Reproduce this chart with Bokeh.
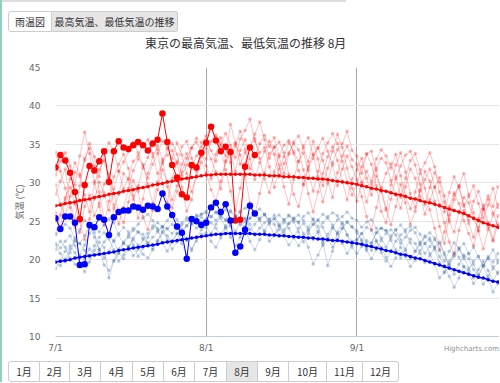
from bokeh.plotting import figure
from bokeh.models import Range1d, FixedTicker, Div
from bokeh.layouts import column, row
from bokeh.embed import file_html
from bokeh.resources import INLINE

# ---------------- data ----------------
tick_days = [0, 31, 62]
tick_labels = ["7/1", "8/1", "9/1"]
y_ticks = [10, 15, 20, 25, 30, 35, 40, 45]

# past years, daily max (7/1 - 9/30)
max_y1 = [28.5, 30.2, 31.8, 27.4, 25.1, 29.6, 33.2, 34.5, 32.1, 30.8, 33.9, 35.2, 34.1, 31.5, 29.2, 30.6, 32.8, 33.5, 34.9, 35.6, 33.8, 31.2, 32.5, 34.4, 35.1, 33.7, 30.9, 32.3, 34.6, 35.3, 34.0,
          33.1, 35.4, 36.2, 34.8, 33.5, 37.6, 35.2, 32.4, 33.9, 34.7, 35.8, 33.2, 30.5, 28.7, 31.4, 33.6, 34.9, 35.5, 33.8, 31.6, 29.8, 32.2, 33.7, 34.5, 32.9, 30.4, 28.1, 31.3, 33.5, 34.8, 33.0,
          32.4, 30.1, 27.5, 29.8, 31.9, 33.2, 32.6, 30.3, 28.4, 26.7, 29.5, 31.8, 30.6, 28.2, 25.9, 27.8, 29.4, 30.7, 28.3, 24.9, 23.6, 26.2, 28.1, 27.4, 25.3, 23.8, 26.5, 27.9, 26.1, 24.4]
max_y2 = [34.0, 31.5, 29.3, 26.8, 24.2, 23.5, 26.9, 28.4, 25.7, 27.3, 29.8, 31.2, 28.6, 26.1, 24.8, 27.5, 30.3, 28.9, 25.6, 23.9, 26.4, 29.1, 31.7, 30.2, 27.8, 29.6, 32.4, 33.8, 31.9, 33.5, 34.7,
          35.6, 34.2, 32.8, 35.1, 36.4, 34.9, 33.3, 35.7, 36.8, 38.3, 35.4, 33.9, 34.6, 32.1, 29.4, 31.8, 33.4, 35.2, 34.1, 32.7, 34.8, 35.9, 33.6, 30.8, 27.5, 29.9, 32.6, 34.3, 35.1, 36.7, 34.2,
          33.5, 31.2, 33.8, 34.1, 31.6, 28.9, 26.4, 29.7, 32.3, 33.9, 31.4, 28.6, 26.8, 29.1, 31.5, 30.2, 27.6, 24.3, 22.1, 25.8, 28.4, 29.6, 27.2, 24.7, 22.9, 25.4, 27.1, 24.8, 22.6, 25.7]
max_y3 = [26.1, 24.3, 27.8, 30.5, 32.6, 31.1, 28.4, 26.2, 29.9, 31.7, 32.9, 30.4, 27.1, 24.6, 26.8, 29.3, 31.6, 33.1, 32.4, 29.8, 27.3, 30.1, 32.8, 33.6, 34.2, 32.5, 34.7, 35.4, 33.2, 31.8, 33.4,
          34.5, 33.1, 31.4, 29.2, 32.7, 34.3, 35.1, 33.6, 30.9, 27.4, 25.8, 28.6, 31.3, 33.8, 34.6, 35.3, 33.9, 31.1, 28.5, 26.9, 29.7, 31.9, 33.2, 34.6, 35.8, 34.1, 32.3, 29.6, 31.8, 33.5, 32.1,
          30.4, 28.2, 25.6, 23.9, 26.8, 29.4, 31.2, 32.5, 30.8, 28.1, 30.6, 32.9, 33.8, 31.7, 29.3, 26.5, 24.1, 21.3, 23.6, 26.9, 28.7, 27.3, 25.1, 23.4, 21.8, 24.2, 26.6, 28.3, 26.9, 29.5]
max_y4 = [31.0, 32.8, 33.9, 32.2, 29.7, 33.5, 36.6, 33.8, 30.2, 26.9, 24.5, 27.6, 30.8, 32.4, 33.7, 31.9, 28.3, 25.4, 27.9, 31.2, 33.4, 34.8, 33.1, 29.5, 26.7, 28.9, 31.4, 33.2, 34.5, 35.8, 35.2,
          36.1, 37.4, 35.8, 34.2, 31.7, 28.9, 26.4, 29.3, 32.5, 34.8, 36.3, 37.9, 35.6, 33.2, 34.7, 32.3, 29.5, 27.2, 30.4, 32.8, 33.9, 31.6, 28.9, 31.5, 33.8, 35.2, 36.4, 35.1, 32.8, 30.1, 28.4,
          29.8, 32.1, 33.7, 32.4, 29.6, 26.3, 24.8, 27.9, 30.5, 32.2, 33.6, 34.1, 32.3, 29.8, 27.1, 29.4, 31.3, 30.1, 27.5, 25.2, 27.8, 29.6, 31.2, 28.5, 26.1, 23.7, 21.4, 23.9, 25.8, 27.2]
max_y5 = [23.4, 25.8, 28.1, 29.4, 27.2, 24.9, 22.6, 25.3, 27.9, 30.1, 28.7, 26.4, 29.2, 31.5, 32.7, 34.1, 35.3, 33.9, 32.2, 30.6, 32.4, 33.8, 35.4, 34.6, 33.1, 35.2, 33.6, 31.2, 28.8, 30.9, 32.7,
          31.3, 29.1, 27.6, 30.2, 32.9, 33.8, 31.5, 34.2, 35.6, 33.1, 30.4, 32.6, 34.1, 35.4, 33.7, 30.8, 32.5, 33.9, 35.1, 34.3, 31.7, 28.6, 26.2, 28.8, 31.2, 33.4, 34.7, 32.9, 30.2, 27.8, 30.5,
          31.7, 33.2, 30.6, 28.4, 30.9, 29.2, 26.7, 24.5, 26.9, 29.8, 27.4, 24.6, 26.3, 28.9, 30.4, 31.8, 29.5, 27.2, 24.8, 22.3, 20.6, 23.8, 26.4, 25.1, 27.6, 28.9, 26.7, 24.2, 22.4, 24.6]
max_y6 = [29.7, 27.3, 25.6, 28.2, 31.4, 30.8, 32.9, 35.1, 33.4, 28.8, 25.2, 23.1, 26.7, 28.5, 31.2, 30.4, 27.8, 29.6, 31.9, 33.3, 35.2, 34.3, 29.9, 27.4, 30.6, 32.8, 29.4, 26.3, 27.8, 31.5, 33.8,
          32.2, 30.5, 33.7, 35.9, 34.4, 32.6, 34.8, 36.7, 34.3, 31.8, 33.4, 35.1, 36.2, 34.7, 35.9, 33.4, 31.2, 33.7, 35.3, 36.1, 34.5, 32.7, 35.4, 33.1, 29.6, 31.9, 34.1, 36.3, 34.6, 31.9, 29.3,
          27.6, 29.9, 31.5, 30.2, 33.1, 34.3, 33.5, 31.9, 33.7, 30.9, 28.3, 26.6, 28.8, 31.2, 32.6, 33.9, 32.1, 28.8, 26.2, 28.7, 30.8, 29.4, 26.9, 28.2, 29.6, 27.3, 25.4, 27.1, 29.3, 26.8]

# past years, daily min (7/1 - 9/30)
min_y1 = [22.1, 21.5, 22.4, 23.1, 21.8, 20.6, 21.9, 23.4, 24.2, 23.6, 24.5, 25.3, 24.8, 23.2, 22.1, 22.9, 23.8, 24.6, 25.4, 25.9, 25.1, 23.8, 24.2, 25.1, 25.8, 25.2, 23.9, 24.4, 25.3, 25.8, 25.5,
          24.9, 25.6, 26.2, 25.8, 25.1, 26.4, 25.7, 24.5, 24.9, 25.4, 25.9, 25.1, 23.6, 22.4, 23.1, 24.3, 25.2, 25.8, 24.9, 23.6, 22.3, 23.4, 24.6, 25.1, 24.2, 22.8, 21.6, 22.7, 24.1, 24.9, 24.3,
          23.8, 22.6, 21.4, 22.2, 23.5, 24.1, 23.8, 22.5, 21.3, 20.2, 21.4, 22.7, 22.1, 20.8, 19.6, 20.5, 21.6, 22.3, 20.9, 18.8, 18.1, 19.4, 20.6, 20.1, 18.7, 17.9, 19.2, 20.1, 19.1, 18.2]
min_y2 = [21.3, 22.4, 21.6, 20.2, 19.4, 19.1, 20.3, 21.4, 20.6, 21.2, 22.3, 23.1, 22.4, 20.9, 20.1, 21.5, 22.6, 21.9, 20.7, 20.2, 21.3, 22.4, 23.5, 23.1, 22.2, 23.4, 24.5, 25.2, 24.6, 25.4, 25.9,
          26.1, 25.6, 25.1, 25.9, 26.5, 26.2, 25.6, 26.3, 26.7, 26.9, 26.1, 25.3, 25.8, 24.6, 23.2, 23.9, 24.8, 25.7, 25.4, 24.9, 25.6, 26.1, 25.2, 23.5, 21.8, 22.6, 24.1, 25.2, 25.6, 26.2, 25.4,
          25.1, 24.2, 24.9, 25.2, 24.1, 22.8, 21.6, 22.8, 23.9, 24.5, 23.6, 22.2, 21.1, 21.9, 23.1, 22.5, 21.3, 19.6, 18.3, 19.4, 20.8, 21.5, 20.4, 18.9, 17.6, 18.7, 19.8, 18.6, 17.2, 18.4]
min_y3 = [19.6, 19.2, 20.1, 21.4, 22.6, 22.1, 21.2, 20.3, 21.8, 22.9, 23.5, 22.7, 21.3, 19.8, 20.6, 21.7, 22.8, 23.6, 23.3, 22.2, 21.4, 22.5, 23.7, 24.1, 24.6, 24.0, 24.8, 25.5, 24.7, 24.1, 24.9,
          25.3, 24.8, 24.1, 23.2, 24.4, 25.1, 25.6, 25.0, 23.9, 22.4, 21.3, 22.6, 23.8, 24.9, 25.4, 25.8, 25.2, 24.1, 22.9, 21.8, 22.9, 23.9, 24.6, 25.2, 25.9, 25.4, 24.5, 23.3, 24.1, 24.9, 24.2,
          23.5, 22.4, 21.2, 20.1, 21.3, 22.5, 23.4, 23.9, 23.2, 22.1, 22.9, 23.8, 24.2, 23.3, 22.1, 20.8, 19.4, 17.6, 18.4, 19.8, 20.9, 20.3, 19.1, 18.2, 16.9, 17.8, 19.2, 20.4, 19.7, 20.8]
min_y4 = [23.2, 23.8, 24.6, 24.1, 22.8, 23.9, 25.1, 24.6, 22.9, 21.3, 20.2, 21.1, 22.5, 23.4, 24.2, 23.6, 21.9, 20.4, 21.5, 22.9, 24.1, 24.8, 24.3, 22.6, 21.4, 22.3, 23.5, 24.4, 25.1, 25.6, 25.9,
          26.3, 26.8, 26.1, 25.4, 24.2, 22.9, 21.8, 22.9, 24.3, 25.4, 26.2, 26.6, 25.9, 24.8, 25.3, 24.4, 23.1, 21.9, 22.8, 24.1, 24.7, 23.8, 22.6, 23.7, 24.8, 25.6, 26.1, 25.7, 24.6, 23.2, 22.4,
          22.6, 23.4, 24.2, 23.8, 22.5, 20.9, 19.8, 21.1, 22.4, 23.2, 23.9, 24.3, 23.5, 22.1, 20.8, 21.7, 22.6, 22.1, 20.6, 19.3, 20.4, 21.3, 22.1, 20.8, 19.4, 18.1, 16.8, 17.9, 18.8, 19.6]
min_y5 = [18.8, 19.9, 21.1, 21.8, 20.9, 19.6, 18.4, 19.7, 21.2, 22.3, 21.6, 17.6, 19.9, 21.4, 22.3, 23.2, 24.1, 23.6, 22.8, 22.1, 22.9, 23.6, 24.3, 24.0, 23.4, 24.2, 23.6, 22.5, 21.4, 22.4, 23.3,
          23.5, 22.4, 21.6, 22.8, 24.1, 24.6, 23.7, 24.8, 25.4, 24.6, 23.2, 24.1, 24.8, 25.3, 24.6, 23.1, 23.9, 24.7, 25.2, 24.8, 23.4, 21.6, 19.4, 20.6, 22.1, 23.3, 24.2, 23.4, 22.1, 20.8, 21.9,
          22.6, 23.4, 22.1, 21.2, 22.4, 21.6, 20.3, 19.1, 20.2, 21.6, 20.4, 19.1, 19.9, 21.2, 22.1, 22.8, 21.6, 20.4, 19.2, 17.8, 16.4, 17.6, 19.1, 18.6, 19.8, 20.4, 19.1, 17.6, 15.8, 16.9]
min_y6 = [21.9, 20.8, 19.7, 20.9, 22.4, 22.1, 23.1, 24.2, 23.5, 21.4, 19.3, 18.6, 19.8, 20.8, 22.1, 21.7, 20.5, 21.3, 22.6, 23.4, 24.4, 24.1, 22.2, 21.1, 22.4, 23.4, 22.1, 20.6, 21.2, 22.8, 23.9,
          24.2, 23.4, 24.6, 25.7, 25.2, 24.3, 25.4, 26.2, 25.3, 23.9, 24.6, 25.4, 25.9, 25.2, 25.8, 24.6, 23.5, 24.7, 25.4, 25.8, 25.1, 24.2, 25.3, 24.3, 22.4, 19.2, 21.1, 23.6, 24.8, 23.2, 21.6,
          20.8, 21.7, 22.5, 22.1, 23.5, 24.1, 23.8, 23.1, 23.9, 22.6, 21.2, 20.1, 21.1, 22.3, 22.9, 23.5, 22.8, 21.2, 19.8, 21.1, 22.2, 21.5, 20.1, 20.8, 21.6, 20.4, 19.3, 20.2, 21.3, 19.9]

# normals
normal_max = [27.0, 27.1, 27.3, 27.4, 27.5, 27.7, 27.8, 27.9, 28.1, 28.2, 28.3, 28.5, 28.6, 28.7, 28.9, 29.0, 29.1, 29.3, 29.4, 29.5, 29.7, 29.8, 29.9, 30.1, 30.2, 30.3, 30.5, 30.6, 30.7, 30.8, 30.9,
              31.0, 31.0, 31.1, 31.1, 31.1, 31.1, 31.1, 31.1, 31.1, 31.1, 31.0, 31.0, 31.0, 30.9, 30.9, 30.9, 30.8, 30.8, 30.8, 30.7, 30.7, 30.6, 30.6, 30.5, 30.5, 30.4, 30.3, 30.2, 30.1, 30.0, 29.9,
              29.8, 29.6, 29.5, 29.3, 29.2, 29.0, 28.9, 28.7, 28.5, 28.4, 28.2, 28.0, 27.9, 27.7, 27.5, 27.4, 27.2, 27.0, 26.8, 26.6, 26.4, 26.2, 26.0, 25.7, 25.4, 25.1, 24.8, 24.6, 24.4, 24.2]
normal_min = [19.7, 19.8, 19.9, 20.0, 20.2, 20.3, 20.4, 20.5, 20.6, 20.7, 20.8, 20.9, 21.0, 21.2, 21.3, 21.4, 21.5, 21.6, 21.7, 21.8, 21.9, 22.0, 22.2, 22.3, 22.4, 22.5, 22.6, 22.7, 22.8, 22.9, 23.0,
              23.1, 23.2, 23.3, 23.3, 23.4, 23.4, 23.4, 23.4, 23.4, 23.4, 23.3, 23.3, 23.3, 23.2, 23.2, 23.1, 23.1, 23.0, 23.0, 22.9, 22.9, 22.8, 22.8, 22.7, 22.7, 22.6, 22.5, 22.5, 22.4, 22.3, 22.2,
              22.1, 22.0, 21.8, 21.7, 21.5, 21.4, 21.2, 21.1, 20.9, 20.7, 20.6, 20.4, 20.2, 20.1, 19.9, 19.7, 19.5, 19.3, 19.1, 18.9, 18.7, 18.5, 18.3, 18.1, 17.9, 17.7, 17.6, 17.4, 17.2, 17.1]

# this year (7/1 - 8/11)
this_max = [32.0, 33.6, 32.9, 31.3, 28.8, 25.3, 29.7, 32.2, 31.6, 32.8, 34.1, 30.1, 34.1, 35.4, 34.6, 34.4, 34.9, 35.3, 34.9, 34.2, 35.1, 35.6, 39.0, 35.3, 32.3, 30.7, 28.5, 28.1, 32.3, 32.0, 33.9,
            35.2, 37.3, 35.5, 34.1, 34.7, 34.0, 25.1, 25.2, 32.1, 34.6, 33.6]
this_min = [25.4, 24.0, 25.6, 25.6, 24.8, 19.3, 19.4, 24.5, 24.2, 25.5, 25.2, 23.2, 25.5, 26.2, 26.4, 26.4, 26.9, 26.8, 26.5, 27.0, 26.9, 26.6, 28.6, 26.9, 25.8, 24.3, 23.5, 20.1, 25.3, 25.0, 24.5,
            24.8, 26.8, 27.4, 26.2, 27.2, 25.1, 20.9, 21.7, 23.9, 27.0, 26.0]

months = ["1月", "2月", "3月", "4月", "5月", "6月", "7月", "8月", "9月", "10月", "11月", "12月"]
view_tabs = ["雨温図", "最高気温、最低気温の推移"]
title_text = "東京の最高気温、最低気温の推移 8月"
y_title = "気温 (℃)"
credit_text = "Highcharts.com"

JP = "Noto Sans CJK JP"
PX_PER_DAY = 4.861
COL_W = 497          # content column width (page x 2..499)
FRAME_LEFT = 53      # frame starts at page x = 55

# ---------------- figure ----------------
p = figure(width=COL_W, height=307,
           x_range=Range1d(0, (COL_W - FRAME_LEFT) / PX_PER_DAY), y_range=Range1d(10, 45),
           output_backend="svg", toolbar_location=None, margin=0,
           min_border_left=FRAME_LEFT, min_border_right=0, min_border_top=16, min_border_bottom=22)
p.outline_line_color = None
p.background_fill_color = "white"

p.yaxis.ticker = FixedTicker(ticks=y_ticks)
p.yaxis.axis_line_color = None
p.yaxis.major_tick_line_color = None
p.yaxis.minor_tick_line_color = None
p.yaxis.major_label_text_font = "DejaVu Sans"
p.yaxis.major_label_text_font_size = "9px"
p.yaxis.major_label_text_color = "#666666"
p.yaxis.major_label_standoff = 9
p.yaxis.axis_label = y_title
p.yaxis.axis_label_text_font = JP
p.yaxis.axis_label_text_font_size = "9px"
p.yaxis.axis_label_text_font_style = "normal"
p.yaxis.axis_label_text_color = "#666666"
p.yaxis.axis_label_standoff = 0
p.ygrid.ticker = FixedTicker(ticks=y_ticks)
p.ygrid.grid_line_color = "#e6e6e6"

p.xaxis.ticker = FixedTicker(ticks=tick_days)
p.xaxis.major_label_overrides = {d: t for d, t in zip(tick_days, tick_labels)}
p.xaxis.axis_line_color = "#c0d0e0"
p.xaxis.major_tick_line_color = None
p.xaxis.minor_tick_line_color = None
p.xaxis.major_label_text_font = "DejaVu Sans"
p.xaxis.major_label_text_font_size = "9px"
p.xaxis.major_label_text_color = "#666666"
p.xaxis.major_label_standoff = 0
p.xgrid.ticker = FixedTicker(ticks=tick_days)
p.xgrid.grid_line_color = "#a8a8a8"

def draw(vals, color, lalpha, malpha, lw, size):
    xs = list(range(len(vals)))
    p.line(xs, vals, line_color=color, line_alpha=lalpha, line_width=lw)
    p.scatter(xs, vals, size=size, marker="circle", fill_color=color, fill_alpha=malpha,
              line_color=None)

for s in [max_y1, max_y2, max_y3, max_y4, max_y5, max_y6]:
    draw(s, "#ff0000", 0.24, 0.28, 1, 3.5)
for s in [min_y1, min_y2, min_y3, min_y4, min_y5, min_y6]:
    draw(s, "#4572a7", 0.28, 0.33, 1, 3.5)

draw(normal_max, "#ff0000", 1.0, 1.0, 1.5, 3.5)
draw(normal_min, "#0000ff", 1.0, 1.0, 1.5, 3.5)
draw(this_max, "#ff0000", 1.0, 1.0, 1, 6.5)
draw(this_min, "#0000ff", 1.0, 1.0, 1, 6.5)

# ---------------- html rows ----------------
def buttons(labels, widths, selected):
    parts = []
    n = len(labels)
    for i, (lab, w) in enumerate(zip(labels, widths)):
        bg = "#e6e6e6" if i == selected else "#ffffff"
        bl = "1px solid #cccccc" if i == 0 else "none"
        if i == 0:
            rad = "3px 0 0 3px"
        elif i == n - 1:
            rad = "0 3px 3px 0"
        else:
            rad = "0"
        parts.append(
            f'<div style="box-sizing:border-box;width:{w}px;height:21px;line-height:19px;'
            f'text-align:center;border:1px solid #cccccc;border-left:{bl};border-radius:{rad};'
            f'background:{bg};white-space:nowrap;">{lab}</div>')
    return "".join(parts)

FONT_CSS = "font-family:'Noto Sans CJK JP',sans-serif;"

top_html = (
    f'<div style="{FONT_CSS}color:#333333;">'
    f'<div style="height:2px;background:#dddddd"></div>'
    f'<div style="height:9px"></div>'
    f'<div style="display:flex;margin-left:6px;font-size:10px;">{buttons(view_tabs, [44, 126], 1)}</div>'
    f'<div style="margin-top:3px;margin-left:143px;font-size:12px;line-height:16px;'
    f'white-space:nowrap;color:#333333;">{title_text}</div>'
    f'</div>')
top_div = Div(text=top_html, width=COL_W, height=51, margin=0)

bottom_html = (
    f'<div style="{FONT_CSS}display:flex;width:{COL_W}px;color:#333333;">'
    f'<div style="display:flex;margin-left:6px;margin-top:3px;font-size:10px;">'
    f'{buttons(months, [32, 30, 31, 32, 31, 31, 32, 31, 31, 38, 36, 36], 7)}</div>'
    f'<div style="flex:1"></div>'
    f'<div style="font-family:\'DejaVu Sans\',sans-serif;font-size:7px;line-height:9px;color:#909090;'
    f'margin-top:-13px;white-space:nowrap;">{credit_text}</div>'
    f'</div>')
bottom_div = Div(text=bottom_html, width=COL_W, height=24, margin=0)

left_bar = Div(text='<div style="width:2px;height:382px;background:#8fd1bf"></div>',
               width=2, height=382, margin=0)

layout = row(left_bar, column(top_div, p, bottom_div, spacing=0, margin=0), spacing=0, margin=0)
open("out.html", "w").write(file_html(layout, INLINE))
